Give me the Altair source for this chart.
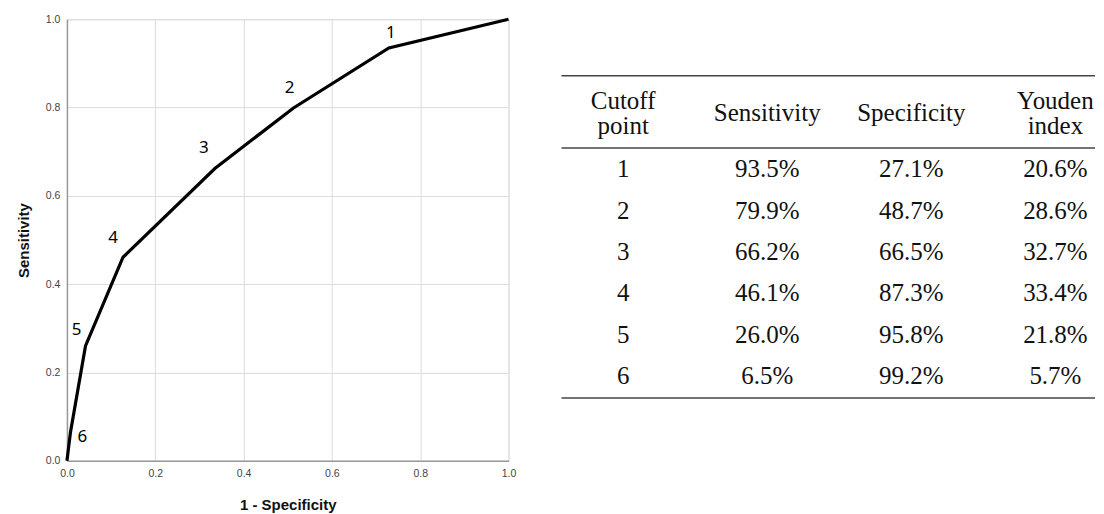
import altair as alt
import pandas as pd

# ROC curve points (1 - specificity, sensitivity), ordered along the curve
fpr = [0.0, 0.008, 0.042, 0.127, 0.335, 0.513, 0.729, 1.0]
tpr = [0.0, 0.065, 0.260, 0.461, 0.662, 0.799, 0.935, 1.0]

# Cutoff table
cutoff = ["1", "2", "3", "4", "5", "6"]
sens = [93.5, 79.9, 66.2, 46.1, 26.0, 6.5]
spec = [27.1, 48.7, 66.5, 87.3, 95.8, 99.2]
youden = [20.6, 28.6, 32.7, 33.4, 21.8, 5.7]

header_line1 = ["Cutoff", "", "", "Youden"]
header_mid = ["", "Sensitivity", "Specificity", ""]
header_line2 = ["point", "", "", "index"]

roc_df = pd.DataFrame({"fpr": fpr, "tpr": tpr, "order": list(range(len(fpr)))})
lab_df = pd.DataFrame({
    "fpr": [round(1 - s / 100, 3) for s in spec],
    "tpr": [s / 100 for s in sens],
    "label": cutoff,
})
# label nudges per cutoff (pixels)
lab_dx = {"1": 2, "2": -4, "3": -11, "4": -10, "5": -9, "6": 12}
lab_dy = {"1": -15, "2": -20, "3": -20, "4": -19, "5": -16, "6": 5}

xs = alt.Scale(domain=[0, 1], nice=False)
ys = alt.Scale(domain=[0, 1], nice=False)

axis_common = dict(
    values=[0, 0.2, 0.4, 0.6, 0.8, 1.0], format=".1f", ticks=False,
    labelFont="Liberation Sans", labelFontSize=10.5, labelColor="#444",
    titleFont="Liberation Sans", titleFontSize=15, titleFontWeight="bold",
    titleColor="#111", domainColor="#999", domainWidth=1.5,
    gridColor="#dcdcdc", gridWidth=1,
)

line = alt.Chart(roc_df).mark_line(color="black", strokeWidth=3.2).encode(
    x=alt.X("fpr:Q", scale=xs, title="1 - Specificity",
            axis=alt.Axis(labelPadding=8, titlePadding=18, labelFlush=False, **axis_common)),
    y=alt.Y("tpr:Q", scale=ys, title="Sensitivity",
            axis=alt.Axis(labelPadding=7, titlePadding=14, labelFlush=False, **axis_common)),
    order="order:Q",
)

labels = []
for c in cutoff:
    labels.append(
        alt.Chart(lab_df[lab_df["label"] == c]).mark_text(
            font="Noto Sans", fontSize=17, color="black",
            dx=lab_dx[c], dy=lab_dy[c],
        ).encode(x=alt.X("fpr:Q", scale=xs), y=alt.Y("tpr:Q", scale=ys), text="label:N")
    )

roc = alt.layer(line, *labels).properties(width=442, height=442)

# ---- table ----
rows = []
for i, c in enumerate(cutoff):
    vals = [c, f"{sens[i]:.1f}%", f"{spec[i]:.1f}%", f"{youden[i]:.1f}%"]
    for j, v in enumerate(vals):
        rows.append({"col": j, "row": i + 1, "text": v})
for j in range(4):
    rows.append({"col": j, "row": -0.65, "text": header_line1[j]})
    rows.append({"col": j, "row": -0.35, "text": header_mid[j]})
    rows.append({"col": j, "row": -0.05, "text": header_line2[j]})
tab_df = pd.DataFrame(rows)
tab_df = tab_df[tab_df["text"] != ""]
rule_df = pd.DataFrame({"row": [-1.25, 0.494, 6.52]})

tx = alt.Scale(domain=[-0.428, 3.275], nice=False, zero=False)
ty = alt.Scale(domain=[-2.614, 8.036], nice=False, zero=False, reverse=True)

body = alt.Chart(tab_df).mark_text(font="Liberation Serif", fontSize=25, color="#111").encode(
    x=alt.X("col:Q", scale=tx, axis=None),
    y=alt.Y("row:Q", scale=ty, axis=None),
    text="text:N",
)
rules = alt.Chart(rule_df).mark_rule(color="#444", strokeWidth=1.5).encode(
    y=alt.Y("row:Q", scale=ty, axis=None),
    x=alt.value(0), x2=alt.value(534),
)
table = alt.layer(rules, body).properties(
    width=534, height=442, view=alt.ViewBackground(stroke="transparent", strokeWidth=0)
)

chart = alt.hconcat(roc, table, spacing=44).properties(
    padding={"left": 7, "top": 4, "right": 0, "bottom": 0}
).configure_view(stroke="transparent", strokeWidth=0).configure(background="white")

chart.save("out.html", embed_options={"renderer": "svg", "actions": False})
